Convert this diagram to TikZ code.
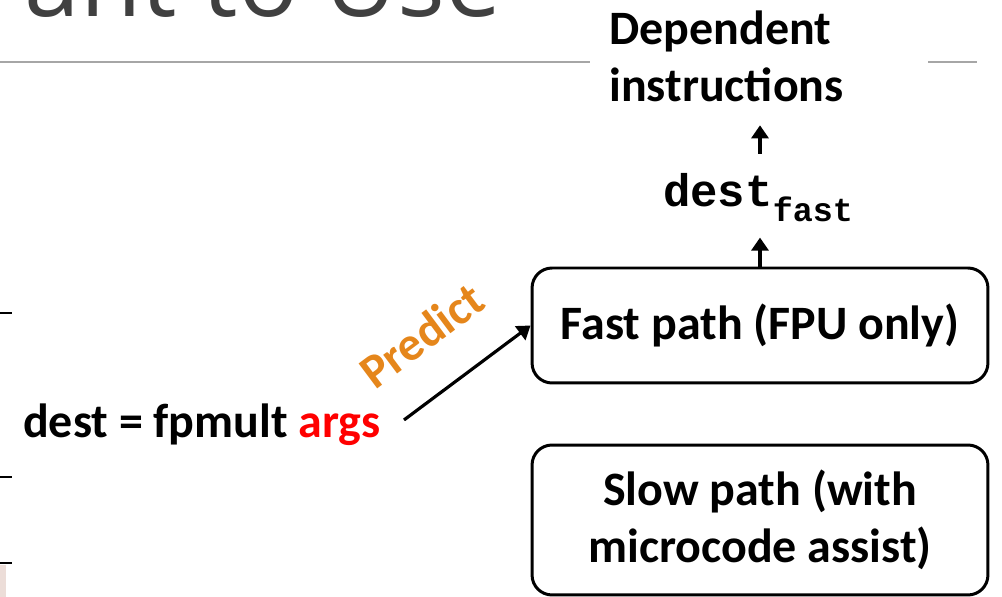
\documentclass[tikz,border=0pt]{standalone}
\usepackage{fontspec}
\setmainfont{Carlito}
\newfontfamily\titlefont{Open Sans}
\newfontfamily\codefont{Liberation Mono}
\usetikzlibrary{arrows.meta, positioning}

\definecolor{predictorange}{HTML}{E5861B}
\definecolor{titlegray}{HTML}{404040}
\definecolor{rulegray}{HTML}{A6A6A6}
\definecolor{tablepink}{HTML}{ECDDD8}

\newcommand{\bigbold}{\fontsize{27.3}{32.4}\selectfont\bfseries}

\begin{document}
\begin{tikzpicture}[x=0.02cm, y=-0.02cm,
    pathbox/.style={draw, line width=1.7pt, rounded corners=0.4cm, minimum width=9.12cm, align=center, font=\bigbold},
    link/.style={line width=1.8pt, -{Triangle[width=0.34cm,length=0.26cm]}}]

\useasboundingbox (0,0) rectangle (1002,597);
\clip (0,0) rectangle (1002,597);

% Slide title, cut off at the top
\node[anchor=base east, inner sep=0, text=titlegray, font=\titlefont\fontsize{57}{60}\selectfont] (title) at (502,17) {ant to Use};

% Title rule, broken behind the top label
\draw[rulegray, line width=1pt] (0,62) -- (590,62);
\draw[rulegray, line width=1pt] (928,62) -- (977,62);

% Edges of the table on the left
\foreach \y in {313,477,563}
{
    \draw[line width=1pt] (0,\y) -- (12,\y);
}
\fill[tablepink] (0,565) rectangle (6,597);

% Fast and slow paths
\node[pathbox, minimum height=2.3cm] (fast) at (760,325.5) {Fast path (FPU only)};
\node[pathbox, minimum height=3cm] (slow) at (760,520) {Slow path (with\\microcode assist)};

% The instruction
\node[inner sep=0, font=\bigbold] (instr) at (202,425) {dest = fpmult \textcolor{red}{args}};

% Result of the fast path and its users
\node[anchor=base, inner sep=0, font=\codefont\bfseries\fontsize{26}{30}\selectfont] (destf) at (758,207)
    {dest\raisebox{-8.5pt}{\fontsize{19}{20}\selectfont fast}};
\node[inner sep=0, align=left, font=\bigbold] (dep) at (726.5,56.5) {Dependent\\instructions};

% Arrows
\draw[link, shorten <=0.57cm] ([yshift=-0.24cm]instr.east) -- (fast.west)
    node[sloped, pos=0.5, above=0.78cm, inner sep=0, text=predictorange, font=\bigbold] (pred) {Predict};
\draw[link, shorten >=0.3cm] (fast.north) -- (fast.north |- destf.south);
\draw[link, shorten <=0.4cm, shorten >=0.46cm] (fast.north |- destf.north) -- (fast.north |- dep.south);

\end{tikzpicture}
\end{document}
